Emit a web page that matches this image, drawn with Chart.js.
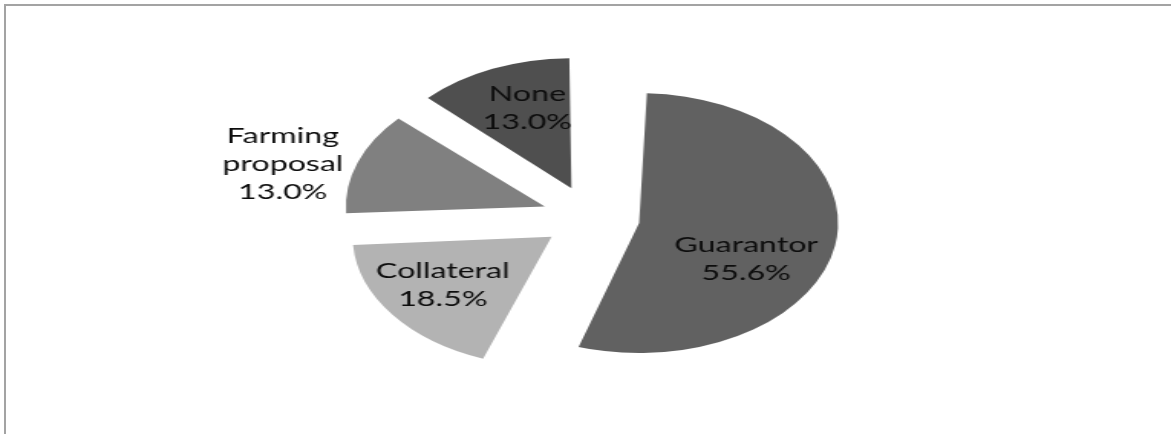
<!DOCTYPE html>
<html>
<head>
<meta charset="utf-8">
<script src="https://cdn.jsdelivr.net/npm/chart.js@4/dist/chart.umd.min.js"></script>
<style>
  html, body { margin: 0; padding: 0; background: #fff; overflow: hidden; }
  #wrap { position: relative; width: 1171px; height: 434px; }
  #frame {
    position: absolute; left: 4px; top: 4px; right: 0; bottom: 0;
    border-top: 2px solid #a3a3a3; border-left: 2px solid #a3a3a3;
  }
  /* chart is drawn narrow and stretched sideways to get the oval pie */
  #pie {
    position: absolute; left: 0; top: 0;
    transform-origin: 0 0;
    transform: scaleX(1.5307);
  }
</style>
</head>
<body>
<div id="wrap">
  <div id="frame"></div>
  <canvas id="pie" width="765" height="434"></canvas>
</div>
<script>
var categories = ['Guarantor', 'Collateral', 'Farming proposal', 'None'];
var shares = [55.6, 18.5, 13.0, 13.0];
var sliceColors = ['#616161', '#b3b3b3', '#808080', '#4f4f4f'];

// label text split on lines, nudges away from the default slice centre
var labelLines = [['Guarantor'], ['Collateral'], ['Farming', 'proposal'], ['None']];
var labelNudge = [[6, 25], [-19, 10], [-110, -20], [-3, -20]];

var RADIUS = 130;
var EXPLODE = 32;       // gap each slice is pushed out by

// arc offset only moves a slice by a quarter of its value and also grows the
// radius a bit, so undo the growth before drawing
var keepRadius = {
    id: 'keepRadius',
    beforeDatasetsDraw: function (chart) {
        chart.getDatasetMeta(0).data.forEach(function (arc) {
            var fix = 1 - Math.sin(Math.min(Math.PI, arc.circumference || 0));
            arc.outerRadius = RADIUS - EXPLODE * fix;
        });
    }
};

var sliceLabels = {
    id: 'sliceLabels',
    afterDatasetsDraw: function (chart) {
        var ctx = chart.ctx;
        var meta = chart.getDatasetMeta(0);
        ctx.save();
        ctx.font = '21px Lato';
        ctx.fillStyle = '#0d0d0d';
        ctx.textAlign = 'center';
        ctx.textBaseline = 'middle';
        meta.data.forEach(function (arc, i) {
            var mid = (arc.startAngle + arc.endAngle) / 2;
            var d = EXPLODE + RADIUS * 0.5;
            var cx = arc.x + Math.cos(mid) * d + labelNudge[i][0];
            var cy = arc.y + Math.sin(mid) * d + labelNudge[i][1];
            var lines = labelLines[i].concat([shares[i].toFixed(1) + '%']);
            var lh = 28;
            var top = cy - (lines.length - 1) * lh / 2;
            lines.forEach(function (t, j) {
                ctx.fillText(t, cx, top + j * lh);
            });
        });
        ctx.restore();
    }
};

var ctx = document.getElementById('pie').getContext('2d');
var pieChart = new Chart(ctx, {
    type: 'pie',
    data: {
        labels: categories,
        datasets: [{
            data: shares,
            backgroundColor: sliceColors,
            borderWidth: 0,
            offset: EXPLODE * 4
        }]
    },
    options: {
        responsive: false,
        animation: false,
        devicePixelRatio: 1,
        radius: RADIUS,
        layout: { padding: { left: 7, right: 0, top: 1, bottom: 0 } },
        plugins: {
            legend: { display: false },
            tooltip: { enabled: false }
        }
    },
    plugins: [keepRadius, sliceLabels]
});
</script>
</body>
</html>
